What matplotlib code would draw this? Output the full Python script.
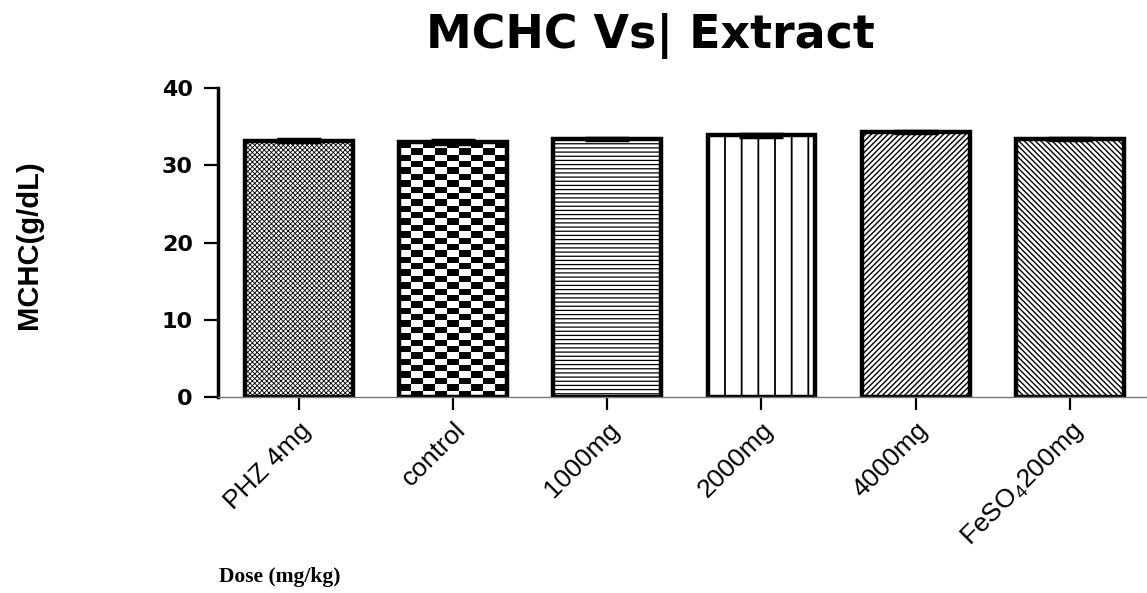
import numpy as np
import matplotlib
matplotlib.use("Agg")
import matplotlib.pyplot as plt

# MCHC per dose group
groups = ["PHZ 4mg", "control", "1000mg", "2000mg", "4000mg", r"FeSO$_{4}$200mg"]
mchc = [33.2, 33.0, 33.4, 33.9, 34.3, 33.4]
sem = [0.15, 0.3, 0.15, 0.2, 0.1, 0.15]
hatches = ["xxxxxxx", None, "----", "|", "//////", "\\\\\\\\\\\\"]
hatch_lw = [0.6, 1.0, 0.9, 1.3, 1.0, 1.0]

plt.rcParams["mathtext.fontset"] = "custom"
plt.rcParams["mathtext.rm"] = "Liberation Sans"

fig = plt.figure(figsize=(11.47, 5.93), dpi=100)
ax = fig.add_axes([0.190, 0.3305, 0.810, 0.5211])

x = np.arange(len(groups))
bars = []
for i in range(len(groups)):
    plt.rcParams["hatch.linewidth"] = hatch_lw[i]
    b = ax.bar(x[i], mchc[i], width=0.7, color="white" if hatches[i] else "none",
               edgecolor="black", linewidth=3.2, hatch=hatches[i], zorder=2)[0]
    if hasattr(b, "set_hatch_linewidth"):
        b.set_hatch_linewidth(hatch_lw[i])
    bars.append(b)

# checkerboard fill for the control bar
cb = bars[1]
nx, ny = 9, 40
checker = (np.add.outer(np.arange(ny), np.arange(nx)) % 2).astype(float)
im = ax.imshow(checker, cmap="gray", aspect="auto", interpolation="nearest",
               extent=[cb.get_x(), cb.get_x() + cb.get_width(), 0, cb.get_height()],
               zorder=1)
im.set_clip_path(cb)

ax.errorbar(x, mchc, yerr=sem, fmt="none", ecolor="black", elinewidth=2,
            capsize=16, capthick=2.5, zorder=3)

ax.set_xlim(-0.525, 5.5)
ax.set_ylim(0, 40)
ax.set_yticks([0, 10, 20, 30, 40])
ax.set_xticks(x)
ax.set_xticklabels(groups, rotation=45, ha="right", rotation_mode="anchor",
                   fontsize=19, family="Liberation Sans")
for lab in ax.get_yticklabels():
    lab.set_fontweight("bold")
    lab.set_fontsize(16)
    lab.set_family("DejaVu Sans")

ax.spines["top"].set_visible(False)
ax.spines["right"].set_visible(False)
ax.spines["left"].set_linewidth(2.5)
ax.spines["bottom"].set_linewidth(1.0)
ax.spines["bottom"].set_color("#777777")
ax.tick_params(axis="y", length=10, width=1.6, pad=8)
ax.tick_params(axis="x", length=9, width=1.6, pad=6, color="black")

fig.text(0.567, 0.940, "MCHC Vs| Extract", ha="center", va="center",
         fontsize=33, fontweight="bold", family="DejaVu Sans")
fig.text(0.025, 0.587, "MCHC(g/dL)", rotation=90, ha="center", va="center",
         fontsize=21, fontweight="bold", family="Liberation Sans")
fig.text(0.244, 0.027, "Dose (mg/kg)", ha="center", va="center",
         fontsize=15.5, fontweight="bold", family="Liberation Serif")

fig.savefig("out.png", dpi=100)
